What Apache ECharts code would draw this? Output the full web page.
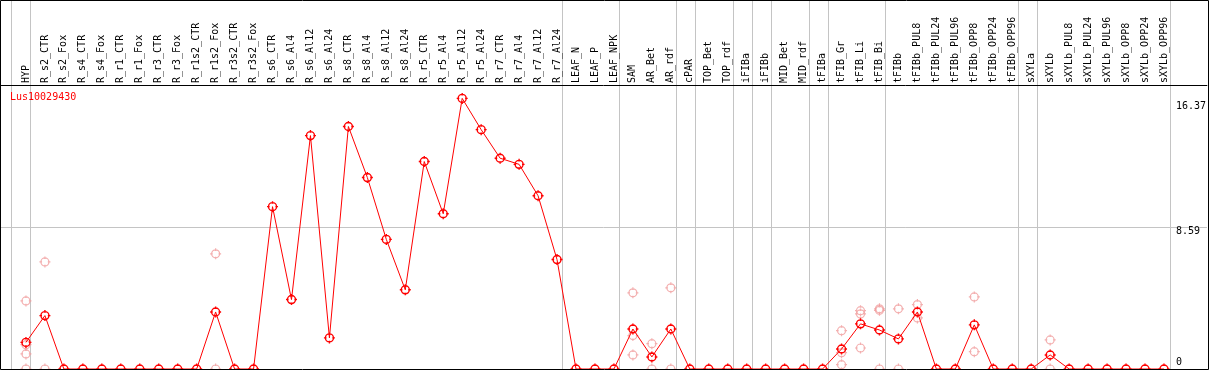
<!DOCTYPE html>
<html>
<head>
<meta charset="utf-8">
<script src="https://cdn.jsdelivr.net/npm/echarts@6/dist/echarts.min.js"></script>
<style>
    html, body { margin: 0; padding: 0; background: #fff; }
    #chart { width: 1209px; height: 370px; }
</style>
</head>
<body>
<div id="chart"></div>
<script>
// sample names along the top
const categories = [
    "HYP", "R_s2_CTR", "R_s2_Fox", "R_s4_CTR", "R_s4_Fox", "R_r1_CTR", "R_r1_Fox", "R_r3_CTR", "R_r3_Fox",
    "R_r1s2_CTR", "R_r1s2_Fox", "R_r3s2_CTR", "R_r3s2_Fox", "R_s6_CTR", "R_s6_Al4", "R_s6_Al12", "R_s6_Al24",
    "R_s8_CTR", "R_s8_Al4", "R_s8_Al12", "R_s8_Al24", "R_r5_CTR", "R_r5_Al4", "R_r5_Al12", "R_r5_Al24",
    "R_r7_CTR", "R_r7_Al4", "R_r7_Al12", "R_r7_Al24", "LEAF_N", "LEAF_P", "LEAF_NPK", "SAM", "AR_Bet", "AR_rdf",
    "cPAR", "TOP_Bet", "TOP_rdf", "iFIBa", "iFIBb", "MID_Bet", "MID_rdf", "tFIBa", "tFIB_Gr", "tFIB_Li", "tFIB_Bi",
    "tFIBb", "tFIBb_PUL8", "tFIBb_PUL24", "tFIBb_PUL96", "tFIBb_OPP8", "tFIBb_OPP24", "tFIBb_OPP96",
    "sXYLa", "sXYLb", "sXYLb_PUL8", "sXYLb_PUL24", "sXYLb_PUL96", "sXYLb_OPP8", "sXYLb_OPP24", "sXYLb_OPP96"
];

// mean expression per sample (red line)
const meanValues = [
    1.61, 3.23, 0, 0, 0, 0, 0, 0, 0,
    0, 3.45, 0, 0, 9.82, 4.20, 14.12, 1.88,
    14.67, 11.58, 7.84, 4.79, 12.55, 9.39, 16.37, 14.48,
    12.75, 12.38, 10.48, 6.62, 0, 0, 0, 2.42, 0.73, 2.42,
    0, 0, 0, 0, 0, 0, 0, 0, 1.21, 2.73, 2.36,
    1.82, 3.45, 0, 0, 2.67, 0, 0,
    0, 0.85, 0, 0, 0, 0, 0, 0
];

// single replicates [sample index, value] (pink circles)
const replicates = [
    [0, 4.12], [0, 1.47], [0, 0.91], [0, 0],
    [1, 6.48], [1, 0],
    [10, 6.97], [10, 0],
    [32, 4.61], [32, 2.02], [32, 0.85],
    [33, 1.53], [33, 0],
    [34, 4.91], [34, 0],
    [43, 2.32], [43, 0.99], [43, 0.26],
    [44, 3.53], [44, 3.33], [44, 1.27],
    [45, 3.64], [45, 3.55], [45, 0],
    [46, 3.64], [46, 0],
    [47, 3.90], [47, 3.09],
    [50, 4.36], [50, 1.05],
    [54, 1.76], [54, 0]
];

// last sample of each tissue group (gray separators)
const groupEnds = [-1, 0, 28, 31, 34, 35, 37, 38, 39, 41, 42, 45, 52, 53, 60];

// right axis labels
const yLabels = [0, 8.59, 16.37];
const yMid = 8.59;
const yMax = 17.18;

const FONT = "DejaVu Sans Mono";
const STEP = 19;          // px per sample
const FIRST = 26;         // px of first sample
const WIDTH = 1209;
const xMin = -FIRST / STEP;
const xMax = (WIDTH - FIRST) / STEP;

const marker = "path://M5.5,0L5.5,2.6M5.5,8.4L5.5,11M0,5.5L2.6,5.5M8.4,5.5L11,5.5M1.5,5.5A4,4,0,1,1,9.5,5.5A4,4,0,1,1,1.5,5.5";

const chart = echarts.init(document.getElementById("chart"));

chart.setOption({
    animation: false,
    title: {
        text: "Lus10029430",
        left: 10,
        top: 92,
        padding: 0,
        textStyle: { color: "#ff0000", fontSize: 10, fontWeight: "normal", fontFamily: FONT }
    },
    grid: [
        { left: 0, right: 0, top: 0, bottom: 1 },   // full height, for separators
        { left: 0, right: 0, top: 85, bottom: 1 }   // plot
    ],
    xAxis: [
        {
            type: "value", gridIndex: 0, min: xMin, max: xMax,
            axisLine: { show: false },
            axisLabel: { show: false },
            axisTick: { show: false, customValues: groupEnds.map(i => i + 0.24) },
            splitLine: { show: true, lineStyle: { color: "#c4c4c4", width: 1 } }
        },
        {
            type: "value", gridIndex: 1, position: "top", min: xMin, max: xMax,
            axisLine: { show: true, onZero: false, lineStyle: { color: "#000", width: 1 } },
            axisTick: { show: false },
            splitLine: { show: false },
            axisLabel: {
                customValues: categories.map((c, i) => i),
                formatter: v => categories[Math.round(v)],
                rotate: -90,
                margin: 2,
                color: "#000",
                fontSize: 10,
                fontFamily: FONT
            }
        }
    ],
    yAxis: [
        { type: "value", gridIndex: 0, min: 0, max: 1, show: false },
        {
            type: "value", gridIndex: 1, position: "right", min: 0, max: yMax,
            axisLine: { show: false },
            axisTick: { show: false, customValues: [yMid] },
            splitLine: { show: true, lineStyle: { color: "#c4c4c4", width: 1 } },
            axisLabel: {
                inside: true,
                customValues: yLabels,
                align: "left",
                margin: 31,
                verticalAlign: "middle",
                formatter: v => v === 0 ? "{lo|0}" : (v === yMid ? "{mid|" + v + "}" : "{hi|" + v + "}"),
                rich: {
                    lo: { color: "#000", fontSize: 10, fontFamily: FONT, padding: [0, 0, 13, 0] },
                    mid: { color: "#000", fontSize: 10, fontFamily: FONT, padding: [9, 0, 0, 0] },
                    hi: { color: "#000", fontSize: 10, fontFamily: FONT, padding: [16, 0, 0, 0] }
                }
            }
        }
    ],
    series: [
        {
            name: "replicates",
            type: "scatter",
            xAxisIndex: 1,
            yAxisIndex: 1,
            symbol: marker,
            symbolSize: 11,
            silent: true,
            z: 2,
            itemStyle: { color: "rgba(0,0,0,0)", borderColor: "#f09a9a", borderWidth: 1.2 },
            data: replicates
        },
        {
            name: "mean",
            type: "line",
            xAxisIndex: 1,
            yAxisIndex: 1,
            symbol: marker,
            symbolSize: 11,
            showAllSymbol: true,
            silent: true,
            z: 3,
            lineStyle: { color: "#ff0000", width: 1 },
            itemStyle: { color: "rgba(0,0,0,0)", borderColor: "#ff0000", borderWidth: 1.4 },
            data: meanValues.map((v, i) => [i, v])
        }
    ],
    graphic: [
        {
            type: "rect",
            silent: true,
            z: 10,
            shape: { x: 0.5, y: 0.5, width: 1208, height: 369 },
            style: { fill: "none", stroke: "#000", lineWidth: 1 }
        }
    ]
});
</script>
</body>
</html>
